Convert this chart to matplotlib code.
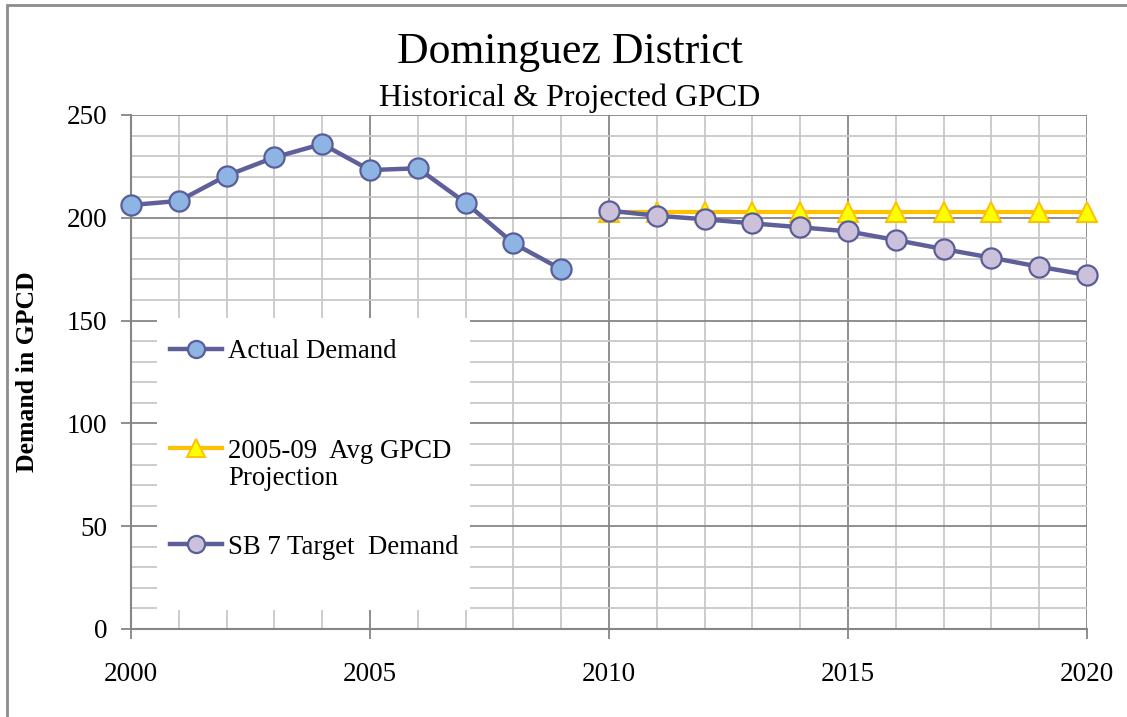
import numpy as np
import matplotlib
matplotlib.use('Agg')
import matplotlib.pyplot as plt
from matplotlib.patches import Rectangle
from matplotlib.lines import Line2D

plt.rcParams['font.family'] = 'Liberation Serif'

# data
years_actual = [2000, 2001, 2002, 2003, 2004, 2005, 2006, 2007, 2008, 2009]
actual_demand = [206.2, 208.2, 220.5, 229.4, 235.9, 223.2, 224.1, 207.3, 187.6, 175.0]

years_proj = list(range(2010, 2021))
avg_projection = [203.0] * 11
sb7_target = [203.5, 201.0, 199.3, 197.3, 195.4, 193.4, 189.2, 184.8, 180.6, 176.2, 172.2]

x_ticks = [2000, 2005, 2010, 2015, 2020]
y_ticks = [0, 50, 100, 150, 200, 250]

LINE = '#5f609b'
EDGE = '#5a5e98'

fig = plt.figure(figsize=(11.27, 7.17), dpi=100)
ax = fig.add_axes([131 / 1127, 1 - 629 / 717, 956 / 1127, 514 / 717])

# outer chart border
fig.patches.append(Rectangle((7 / 1127, -0.01), 1.02, 1 - 5 / 717 + 0.01,
                             transform=fig.transFigure, fill=False,
                             edgecolor='#8c8c8c', linewidth=2))

l_act, = ax.plot(years_actual, actual_demand, color=LINE, linewidth=3.2,
                 marker='o', markersize=14.5, markerfacecolor='#8db4e2',
                 markeredgecolor=EDGE, markeredgewidth=1.6, zorder=4,
                 clip_on=False)
l_proj, = ax.plot(years_proj, avg_projection, color='#ffc000', linewidth=3.0,
                  marker='^', markersize=14.5, markerfacecolor='#ffff00',
                  markeredgecolor='#ffc000', markeredgewidth=1.4, zorder=3,
                  clip_on=False)
l_sb7, = ax.plot(years_proj, sb7_target, color=LINE, linewidth=3.2,
                 marker='o', markersize=14.5, markerfacecolor='#ccc1da',
                 markeredgecolor=EDGE, markeredgewidth=1.6, zorder=4,
                 clip_on=False)

ax.set_xlim(2000, 2020)
ax.set_ylim(0, 250)
ax.set_xticks(x_ticks)
ax.set_yticks(y_ticks)
ax.set_xticks(range(2000, 2021), minor=True)
ax.set_yticks(range(0, 251, 10), minor=True)
ax.grid(which='minor', color='#c8c8c8', linewidth=1.3, zorder=0)
ax.grid(which='major', color='#868686', linewidth=1.3, zorder=0)
ax.set_axisbelow(True)
ax.tick_params(which='major', length=7, width=1.3, color='#868686',
               labelsize=19.5)
ax.tick_params(which='minor', length=0)
ax.tick_params(axis='x', pad=17)
ax.tick_params(axis='y', pad=10)
for side in ['left', 'bottom']:
    ax.spines[side].set_color('#868686')
    ax.spines[side].set_linewidth(1.5)
for side in ['top', 'right']:
    ax.spines[side].set_visible(False)

ax.set_ylabel('Demand in GPCD', fontsize=18.5, fontweight='bold', labelpad=20)

fig.text(570 / 1127, 1 - 52 / 717, 'Dominguez District', fontsize=31.5,
         ha='center', va='center')
fig.text(570 / 1127, 1 - 98 / 717, 'Historical & Projected GPCD', fontsize=23,
         ha='center', va='center')

# legend: white box with three entries
ax.add_patch(Rectangle((26 / 956, 19 / 514), 313 / 956, 292 / 514,
                       transform=ax.transAxes, facecolor='white',
                       edgecolor='none', zorder=5))

def to_ax(py):
    return (629 - py) / 514

leg_kw = dict(fontsize=19.3, frameon=False, handlelength=1.94,
              handletextpad=0.22, borderpad=0, borderaxespad=0,
              markerscale=0.85)
hx = 39 / 956
blank = Line2D([], [], linestyle='none')

leg1 = ax.legend([l_act], ['Actual Demand'], loc='center left',
                 bbox_to_anchor=(hx, to_ax(352)), **leg_kw)
leg1.set_zorder(6)
ax.add_artist(leg1)
leg2 = ax.legend([l_proj, blank], ['2005-09  Avg GPCD', 'Projection'],
                 loc='center left', bbox_to_anchor=(hx, to_ax(465)),
                 labelspacing=0.11, **leg_kw)
leg2.set_zorder(6)
ax.add_artist(leg2)
leg3 = ax.legend([l_sb7], ['SB 7 Target  Demand'], loc='center left',
                 bbox_to_anchor=(hx, to_ax(547)), **leg_kw)
leg3.set_zorder(6)

fig.savefig('out.png', dpi=100)
